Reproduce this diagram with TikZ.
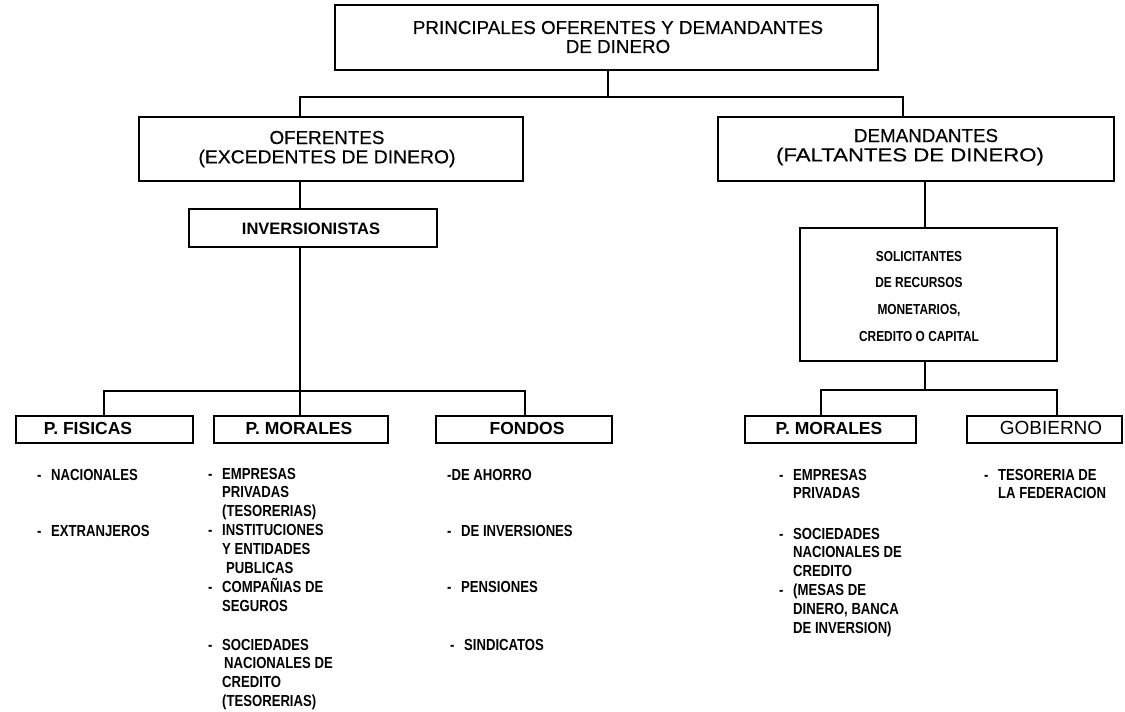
\documentclass[tikz,border=0pt]{standalone}
\usepackage{fontspec}
\usepackage{graphicx}
\setmainfont{Liberation Sans}
\newfontfamily\titlesans[FakeBold=0.4]{Liberation Sans}
\newfontfamily\narrowsans[FakeStretch=0.82]{Liberation Sans}
% hanging indent for continuation lines and the leading dash of an item
\newcommand\ind{\hspace*{14pt}}
\newcommand\dash{\makebox[14pt][l]{-}}
\newcommand\rows[2]{\begin{tabular}[t]{@{}#1@{}}#2\end{tabular}}
\newcommand\wider[2]{\scalebox{#1}[1]{#2}}

\tikzset{
  box/.style={draw, line width=1.9pt, inner sep=0pt},
  link/.style={line width=1.9pt},
  ttl/.style={font=\titlesans\fontsize{18.8}{19}\selectfont, anchor=base, inner sep=0pt},
  lbl/.style={font=\bfseries\fontsize{17.5}{18}\selectfont, anchor=base, inner sep=0pt},
  lst/.style={font=\narrowsans\bfseries\fontsize{16}{18.8}\selectfont, anchor=base west, inner sep=0pt},
}

\begin{document}
\begin{tikzpicture}[x=1pt, y=-1pt]
\fill[white] (0,0) rectangle (1125,712);
\useasboundingbox (0,0) rectangle (1125,712);

% ---- boxes ----
\node[box, minimum width=543pt, minimum height=65pt]  (top)  at (606.5,37.5) {};
\node[box, minimum width=384pt, minimum height=64pt]  (ofer) at (331,149) {};
\node[box, minimum width=248pt, minimum height=38pt]  (inv)  at (313,228) {};
\node[box, minimum width=396pt, minimum height=64pt]  (dem)  at (916,149) {};
\node[box, minimum width=257pt, minimum height=133pt] (sol)  at (928.5,294.5) {};
\node[box, minimum width=177pt, minimum height=27pt]  (pf)   at (104.5,429.5) {};
\node[box, minimum width=174pt, minimum height=27pt]  (pm1)  at (301,429.5) {};
\node[box, minimum width=176pt, minimum height=27pt]  (fon)  at (524,429.5) {};
\node[box, minimum width=171pt, minimum height=27pt]  (pm2)  at (830.5,429.5) {};
\node[box, minimum width=155pt, minimum height=27pt]  (gob)  at (1044.5,429.5) {};

% ---- box texts ----
\node[ttl] (ttop) at (618,34) {\rows{c}{PRINCIPALES OFERENTES Y DEMANDANTES\\DE DINERO}};
\node[ttl] (tofer) at (327,144) {\rows{c}{OFERENTES\\\wider{1.03}{(EXCEDENTES DE DINERO)}}};
\node[ttl] (tdem) at (910,142) {\rows{c}{\hspace*{32pt}DEMANDANTES\\\wider{1.18}{(FALTANTES DE DINERO)}}};
\node[lbl, font=\bfseries\fontsize{16.5}{18}\selectfont] (tinv) at (311,234) {INVERSIONISTAS};
\node[anchor=base, inner sep=0pt, font=\narrowsans\bfseries\fontsize{14.5}{26.7}\selectfont] (tsol) at (919,261)
  {\rows{c}{SOLICITANTES\\DE RECURSOS\\MONETARIOS,\\CREDITO O CAPITAL}};
\node[lbl] (tpf)  at (88,434)  {P. FISICAS};
\node[lbl] (tpm1) at (299,434) {P. MORALES};
\node[lbl] (tfon) at (527,434) {FONDOS};
\node[lbl] (tpm2) at (829,434) {P. MORALES};
\node[lbl, font=\fontsize{19}{20}\selectfont] (tgob) at (1051,434) {GOBIERNO};

% ---- connectors ----
\coordinate (jT) at (608,97);
\coordinate (jL) at (300,97);
\coordinate (jR) at (903,97);
\draw[link] (top.south -| jT) -- (jT);
\draw[link] (ofer.north -| jL) -- (jL) -- (jR) -- (dem.north -| jR);
\draw[link] (ofer.south -| jL) -- (inv.north -| jL);

\coordinate (jB)  at (300,391);
\coordinate (jB1) at (104,391);
\coordinate (jB3) at (525,391);
\draw[link] (inv.south -| jB) -- (jB);
\draw[link] (pf.north -| jB1) -- (jB1) -- (jB3) -- (fon.north -| jB3);
\draw[link] (jB) -- (pm1.north -| jB);

\coordinate (xD) at (925,205);
\draw[link] (dem.south -| xD) -- (sol.north -| xD);

\coordinate (jS)  at (925,390);
\coordinate (jS1) at (821,390);
\coordinate (jS2) at (1057,390);
\draw[link] (sol.south -| jS) -- (jS);
\draw[link] (pm2.north -| jS1) -- (jS1) -- (jS2) -- (gob.north -| jS2);

% ---- lists ----
\node[lst] (l1a) at (37,480) {\dash NACIONALES};
\node[lst] (l1b) at (37,536) {\dash EXTRANJEROS};

\node[lst] (l2a) at (208,479) {\rows{l}{\dash EMPRESAS\\\ind PRIVADAS\\\ind (TESORERIAS)\\
  \dash INSTITUCIONES\\\ind Y ENTIDADES\\\ind\hspace*{4pt}PUBLICAS\\\dash COMPAÑIAS DE\\\ind SEGUROS}};
\node[lst] (l2b) at (208,650) {\rows{l}{\dash SOCIEDADES\\\ind\hspace*{2pt}NACIONALES DE\\\ind CREDITO\\\ind (TESORERIAS)}};

\node[lst] (l3a) at (447,480) {-DE AHORRO};
\node[lst] (l3b) at (447,536) {\dash DE INVERSIONES};
\node[lst] (l3c) at (447,592) {\dash PENSIONES};
\node[lst] (l3d) at (450,650) {\dash SINDICATOS};

\node[lst] (l4a) at (779,480) {\rows{l}{\dash EMPRESAS\\\ind PRIVADAS}};
\node[lst] (l4b) at (779,539) {\rows{l}{\dash SOCIEDADES\\\ind NACIONALES DE\\\ind CREDITO\\
  \dash (MESAS DE\\\ind DINERO, BANCA\\\ind DE INVERSION)}};

\node[lst] (l5a) at (984,480) {\rows{l}{\dash TESORERIA DE\\\ind LA FEDERACION}};
\end{tikzpicture}
\end{document}
